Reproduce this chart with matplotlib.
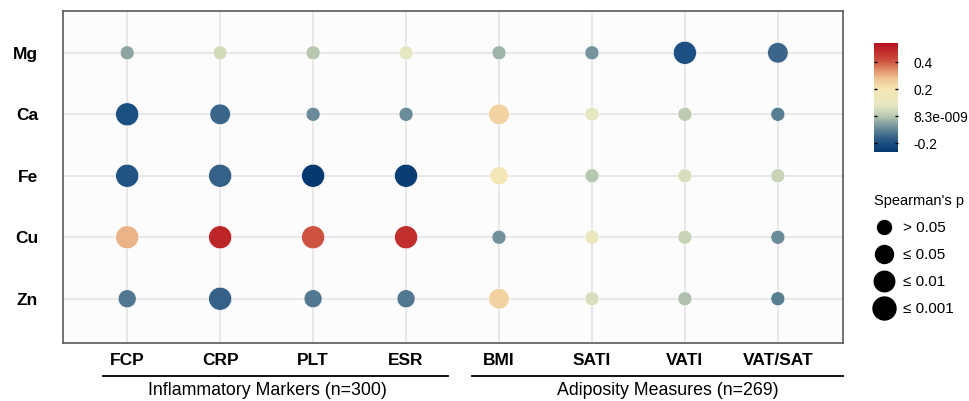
import numpy as np
import matplotlib
matplotlib.use('Agg')
import matplotlib.pyplot as plt
from matplotlib.colors import LinearSegmentedColormap, Normalize
from matplotlib.lines import Line2D

plt.rcParams['font.family'] = ['Liberation Sans', 'DejaVu Sans']

#%% datos
elementos = ['Mg', 'Ca', 'Fe', 'Cu', 'Zn']
medidas = ['FCP', 'CRP', 'PLT', 'ESR', 'BMI', 'SATI', 'VATI', 'VAT/SAT']
grupos = ['Inflammatory Markers (n=300)', 'Adiposity Measures (n=269)']

# rho de Spearman por elemento
rho_mg = [-0.045, 0.05, 0.0, 0.08, -0.025, -0.075, -0.20, -0.15]
rho_ca = [-0.20, -0.15, -0.09, -0.09, 0.25, 0.08, 0.01, -0.11]
rho_fe = [-0.19, -0.16, -0.26, -0.25, 0.19, 0.0, 0.06, 0.03]
rho_cu = [0.30, 0.50, 0.41, 0.48, -0.08, 0.11, 0.03, -0.09]
rho_zn = [-0.12, -0.16, -0.12, -0.12, 0.25, 0.06, -0.01, -0.11]

# categoria de p (0: >0.05, 1: <=0.05, 2: <=0.01, 3: <=0.001)
p_mg = [0, 0, 0, 0, 0, 0, 3, 2]
p_ca = [3, 2, 0, 0, 2, 0, 0, 0]
p_fe = [3, 3, 3, 3, 1, 0, 0, 0]
p_cu = [3, 3, 3, 3, 0, 0, 0, 0]
p_zn = [1, 3, 1, 1, 2, 0, 0, 0]

p_labels = ['> 0.05', '\u2264 0.05', '\u2264 0.01', '\u2264 0.001']
cbar_ticks = [-0.2, 8.3e-9, 0.2, 0.4]
cbar_ticklabels = ['-0.2', '8.3e-009', '0.2', '0.4']

#%% escala de color
vmin, vmax = -0.265, 0.545
anclas = [(-0.265, '#063870'), (-0.20, '#1c5082'), (-0.15, '#3b6589'),
          (-0.10, '#628698'), (-0.05, '#8aa2a2'), (0.0, '#b9c8b0'),
          (0.08, '#e4e7c2'), (0.20, '#f6e7b4'), (0.28, '#efc596'),
          (0.35, '#e08a66'), (0.42, '#cc4a3c'), (0.545, '#b5121f')]
cmap = LinearSegmentedColormap.from_list(
    'rho', [((v - vmin) / (vmax - vmin), c) for v, c in anclas])
norm = Normalize(vmin=vmin, vmax=vmax)

rho = np.array([rho_mg, rho_ca, rho_fe, rho_cu, rho_zn])
pcat = np.array([p_mg, p_ca, p_fe, p_cu, p_zn])
xx, yy = np.meshgrid(np.arange(len(medidas)), np.arange(len(elementos)))
tamanos = np.array([101, 168, 218, 274])

#%% figura
fig = plt.figure(figsize=(9.7, 4.01), dpi=100)
ax = fig.add_axes([0.065, 0.1446, 0.804, 0.828])

sc = ax.scatter(xx.ravel(), yy.ravel(), s=tamanos[pcat.ravel()], c=rho.ravel(),
                cmap=cmap, norm=norm, edgecolors='white', linewidths=0.4, zorder=3)

ax.set_xlim(-0.69, 7.7)
ax.set_ylim(4.72, -0.68)
ax.set_xticks(range(len(medidas)))
ax.set_xticklabels(medidas, fontweight='bold', fontsize=12.5)
ax.set_yticks(range(len(elementos)))
ax.set_yticklabels(elementos, fontweight='bold', fontsize=12.5)
ax.tick_params(axis='x', length=0, pad=7)
ax.tick_params(axis='y', length=0, pad=18)
ax.grid(color='#e3e3e3', lw=1.1)
ax.set_axisbelow(True)
ax.set_facecolor('#fcfcfc')
for s in ax.spines.values():
    s.set_color('#5a5a5a')
    s.set_linewidth(1.2)

# barra de color
cax = fig.add_axes([0.901, 0.621, 0.0247, 0.272])
cb = fig.colorbar(sc, cax=cax)
cb.outline.set_visible(False)
cb.set_ticks(cbar_ticks, labels=cbar_ticklabels)
cax.tick_params(direction='in', length=2.5, width=1, color='black',
                left=True, right=True, labelsize=10, pad=11)

# leyenda de p
handles = [Line2D([], [], marker='o', ls='', color='black', markersize=np.sqrt(t))
           for t in tamanos]
fig.legend(handles, p_labels, title="Spearman's p", loc='upper left',
           bbox_to_anchor=(0.8935, 0.535), frameon=False, fontsize=11,
           title_fontsize=10.5, alignment='left', borderpad=0,
           handlelength=1.3, handletextpad=0.6, labelspacing=0.85)

# grupos
fig.add_artist(Line2D([0.106, 0.462], [0.0623, 0.0623], transform=fig.transFigure,
                      color='black', lw=1.3))
fig.add_artist(Line2D([0.487, 0.869], [0.0623, 0.0623], transform=fig.transFigure,
                      color='black', lw=1.3))
fig.text(0.2757, 0.0274, grupos[0], ha='center', va='center', fontsize=12.8)
fig.text(0.6881, 0.0274, grupos[1], ha='center', va='center', fontsize=12.8)

fig.savefig('out.png', dpi=100)
